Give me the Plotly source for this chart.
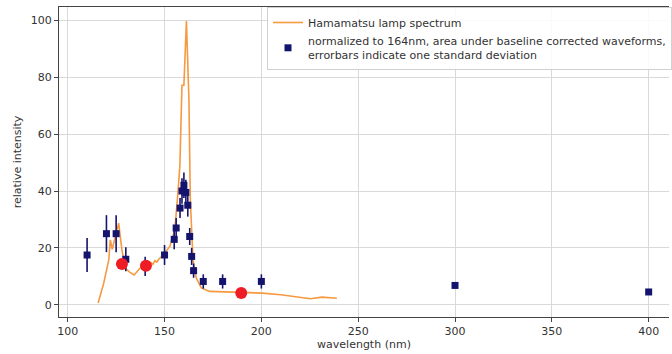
import plotly.graph_objects as go

# Hamamatsu lamp spectrum
spec_x = [115.7, 118.6, 121.2, 122.0, 123.0, 124.6, 126.3, 128.0, 129.7, 132.0, 134.3, 137.4,
          140.0, 141.0, 142.0, 143.0, 144.0, 145.0, 146.0, 147.0, 149.3, 152.7, 155.3, 156.6,
          157.9, 159.0, 160.0, 161.3, 162.6, 163.3, 163.8, 164.7, 166.4, 169.0, 173.2, 180.0,
          188.6, 200.5, 210.0, 225.3, 231.3, 239.0]
spec_y = [0.6, 7.6, 15.8, 22.8, 19.5, 24.0, 28.7, 19.3, 12.9, 11.5, 10.5, 12.9,
          13.5, 14.5, 13.8, 14.8, 14.2, 15.5, 15.0, 16.0, 17.5, 20.5, 26.3, 36.8,
          48.5, 77.2, 77.2, 99.8, 72.0, 37.0, 27.5, 15.8, 9.4, 5.9, 4.7, 4.5,
          4.3, 4.1, 3.5, 2.1, 2.7, 2.3]

# measured points with standard deviation
meas_x = [110, 120, 125, 130, 140, 150, 155, 156, 158, 159, 160, 161, 162, 163, 164, 165,
          170, 180, 200, 300, 400]
meas_y = [17.5, 25, 25, 16, 13.5, 17.5, 23, 27, 34, 40, 42, 39.5, 35, 24, 17, 12,
          8.2, 8.2, 8.2, 6.8, 4.5]
meas_err = [6, 6.5, 6.5, 4.2, 3.4, 3.5, 3.5, 3.5, 3.5, 4.5, 4.5, 4.5, 4, 3, 3, 2.5,
            2.5, 2.5, 2.5, 1.0, 1.0]

# highlighted points
red_x = [128, 140.4, 189.6]
red_y = [14.3, 13.7, 4.1]

fig = go.Figure()
fig.add_trace(go.Scatter(
    x=spec_x, y=spec_y, mode="lines", name="Hamamatsu lamp spectrum",
    line=dict(color="#f6993f", width=1.6)))
fig.add_trace(go.Scatter(
    x=meas_x, y=meas_y, mode="markers",
    name="normalized to 164nm, area under baseline corrected waveforms,<br>errorbars indicate one standard deviation",
    marker=dict(symbol="square", size=7, color="#14146e"),
    error_y=dict(type="data", array=meas_err, visible=True, color="#14146e", thickness=1.6, width=0)))
fig.add_trace(go.Scatter(
    x=red_x, y=red_y, mode="markers", showlegend=False,
    marker=dict(symbol="circle", size=12, color="#ee1c25")))

axis_common = dict(showgrid=True, gridcolor="#d9d9d9", gridwidth=1, zeroline=False,
                   showline=True, linecolor="#444", linewidth=1.2, ticks="outside",
                   ticklen=4, tickcolor="#444", tickfont=dict(size=11, color="#333"),
                   automargin=False)
fig.update_xaxes(range=[95.5, 410.5], tickvals=[100, 150, 200, 250, 300, 350, 400],
                 mirror=True, title=dict(text="wavelength (nm)", font=dict(size=11, color="#333"), standoff=2),
                 **axis_common)
fig.update_yaxes(range=[-4.3, 104.7], tickvals=[0, 20, 40, 60, 80, 100],
                 title=dict(text="relative intensity", font=dict(size=11, color="#333"), standoff=6),
                 **axis_common)

fig.update_layout(
    width=672, height=354,
    margin=dict(l=59, r=0, t=7, b=37),
    paper_bgcolor="white", plot_bgcolor="white",
    font=dict(family="DejaVu Sans", size=11, color="#333"),
    legend=dict(x=0.341, y=1.0, xanchor="left", yanchor="top",
                bgcolor="rgba(255,255,255,0.85)", bordercolor="#d0d0d0", borderwidth=1,
                font=dict(size=11, color="#333"), tracegroupgap=0),
)
fig.write_html("out.html", config={"displayModeBar": False},
               post_script="document.body.style.margin='0';document.body.style.overflow='hidden';")
